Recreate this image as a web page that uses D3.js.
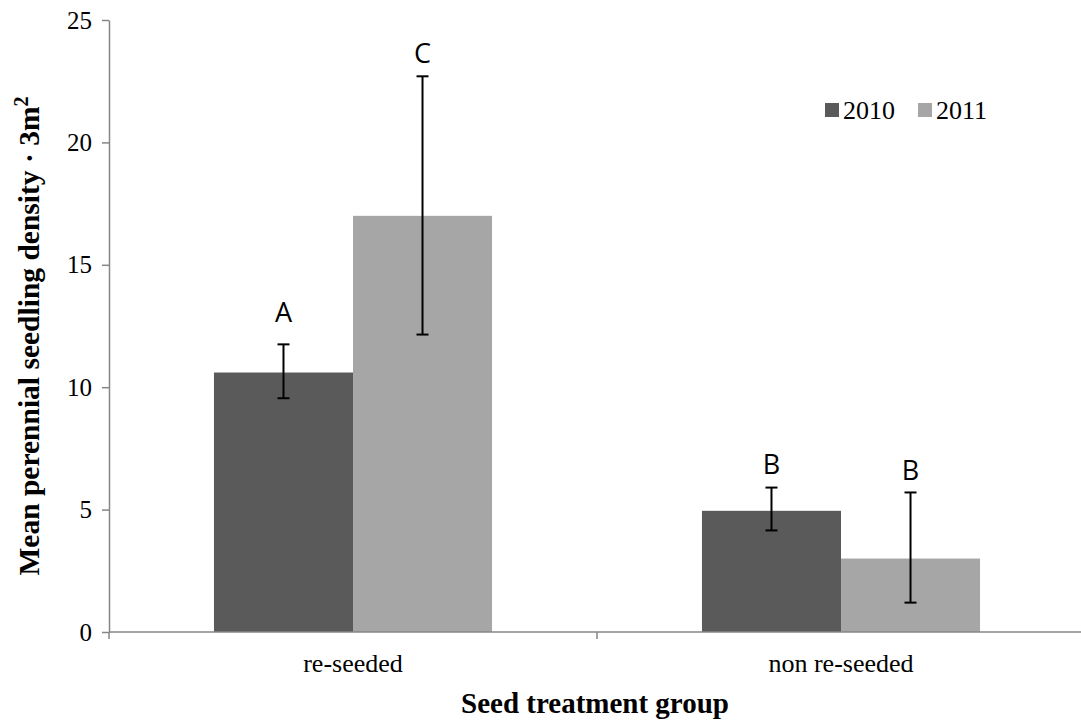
<!DOCTYPE html>
<html>
<head>
<meta charset="utf-8">
<script src="https://cdn.jsdelivr.net/npm/d3@7"></script>
<style>
  body { margin: 0; background: #fff; }
  svg { display: block; }
</style>
</head>
<body>
<svg width="1081" height="723"></svg>
<script>
// data
const groups = ["re-seeded", "non re-seeded"];
const years = ["2010", "2011"];
const means = { "re-seeded": [10.6, 17.0], "non re-seeded": [4.95, 3.0] };
const errLow = { "re-seeded": [9.55, 12.15], "non re-seeded": [4.15, 1.2] };
const errHigh = { "re-seeded": [11.75, 22.7], "non re-seeded": [5.9, 5.7] };
const letters = { "re-seeded": ["A", "C"], "non re-seeded": ["B", "B"] };
const letterAt = { "re-seeded": [12.65, 23.25], "non re-seeded": [6.45, 6.2] };
const yTicks = [0, 5, 10, 15, 20, 25];

const colors = { "2010": "#595a59", "2011": "#a6a6a6" };
const axisColor = "#868686";
const serif = "'Liberation Serif', 'Times New Roman', serif";
const sans = "'Open Sans', 'Liberation Sans', sans-serif";

const svg = d3.select("svg");
const plotL = 109, plotR = 1085, plotT = 20, plotB = 632;

const x0 = d3.scaleBand().domain(groups).range([plotL, plotR]).padding(0);
const x1 = d3.scaleBand().domain(years).range([0, x0.bandwidth()])
  .paddingInner(0).paddingOuter(0.755);
const y = d3.scaleLinear().domain([0, 25]).range([plotB, plotT]);

// rows for drawing
let rows = [];
groups.forEach(function(g) {
  years.forEach(function(yr, i) {
    rows.push({ group: g, year: yr, v: means[g][i], lo: errLow[g][i],
      hi: errHigh[g][i], letter: letters[g][i], ly: letterAt[g][i] });
  });
});

// bars
svg.append("g").selectAll("rect")
  .data(rows)
  .enter()
  .append("rect")
  .attr("x", d => x0(d.group) + x1(d.year))
  .attr("width", x1.bandwidth())
  .attr("y", d => y(d.v))
  .attr("height", d => y(0) - y(d.v))
  .attr("fill", d => colors[d.year]);

// y axis
const yAxis = svg.append("g")
  .attr("transform", `translate(${plotL},0)`)
  .call(d3.axisLeft(y).tickValues(yTicks).tickSize(7).tickSizeOuter(0).tickPadding(10));
yAxis.select(".domain").attr("stroke", axisColor).attr("stroke-width", 1.5);
yAxis.selectAll(".tick line").attr("stroke", axisColor).attr("stroke-width", 1.5);
yAxis.selectAll(".tick text")
  .style("font-family", serif).style("font-size", "25px").attr("fill", "#000");

// x axis line + boundary ticks
const xg = svg.append("g");
xg.append("line")
  .attr("x1", plotL).attr("x2", plotR)
  .attr("y1", y(0)).attr("y2", y(0))
  .attr("stroke", axisColor).attr("stroke-width", 1.5);
const bounds = groups.map(g => x0(g)).concat([x0.range()[1]]);
xg.selectAll(".bt")
  .data(bounds)
  .enter()
  .append("line")
  .attr("x1", d => d).attr("x2", d => d)
  .attr("y1", y(0)).attr("y2", y(0) + 7)
  .attr("stroke", axisColor).attr("stroke-width", 1.5);
xg.selectAll(".cat")
  .data(groups)
  .enter()
  .append("text")
  .attr("x", d => x0(d) + x0.bandwidth() / 2)
  .attr("y", 672)
  .attr("text-anchor", "middle")
  .style("font-family", serif).style("font-size", "26px")
  .text(d => d);

// error bars
const eb = svg.append("g").attr("stroke", "#000").attr("stroke-width", 2);
rows.forEach(function(d) {
  const cx = x0(d.group) + x1(d.year) + x1.bandwidth() / 2;
  eb.append("line").attr("x1", cx).attr("x2", cx)
    .attr("y1", y(d.lo)).attr("y2", y(d.hi));
  [d.lo, d.hi].forEach(function(v) {
    eb.append("line").attr("x1", cx - 6).attr("x2", cx + 6)
      .attr("y1", y(v)).attr("y2", y(v));
  });
});

// significance letters
svg.append("g").selectAll("text")
  .data(rows)
  .enter()
  .append("text")
  .attr("x", d => x0(d.group) + x1(d.year) + x1.bandwidth() / 2)
  .attr("y", d => y(d.ly))
  .attr("text-anchor", "middle")
  .style("font-family", sans).style("font-size", "27px")
  .text(d => d.letter);

// legend
const legX = [825, 918];
const leg = svg.append("g");
years.forEach(function(yr, i) {
  leg.append("rect").attr("x", legX[i]).attr("y", 103)
    .attr("width", 14).attr("height", 14).attr("fill", colors[yr]);
  leg.append("text").attr("x", legX[i] + 18).attr("y", 119)
    .style("font-family", serif).style("font-size", "26px").text(yr);
});

// axis titles
svg.append("text")
  .attr("x", (plotL + plotR) / 2 - 2).attr("y", 713)
  .attr("text-anchor", "middle")
  .style("font-family", serif).style("font-size", "29px").style("font-weight", "bold")
  .text("Seed treatment group");

const yt = svg.append("text")
  .attr("transform", "translate(39,336) rotate(-90)")
  .attr("text-anchor", "middle")
  .style("font-family", serif).style("font-size", "29.5px").style("font-weight", "bold");
yt.append("tspan").text("Mean perennial seedling density · 3m");
yt.append("tspan").attr("dy", -11).style("font-size", "20px").text("2");
</script>
</body>
</html>
